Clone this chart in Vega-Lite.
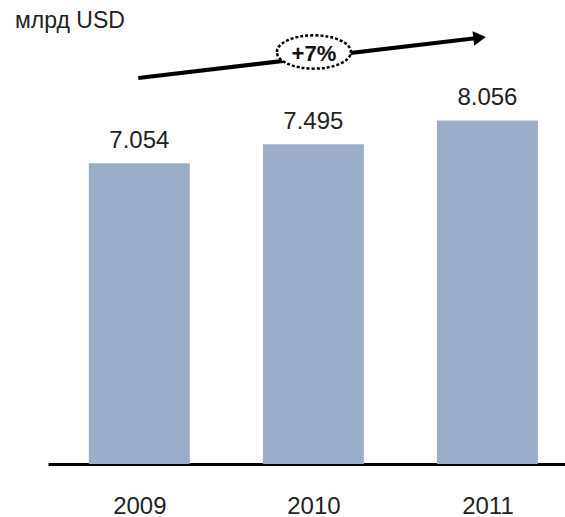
{
  "$schema": "https://vega.github.io/schema/vega-lite/v6.json",
  "width": 517,
  "height": 424,
  "autosize": {"type": "none"},
  "padding": {"left": 48, "top": 40, "right": 0, "bottom": 53},
  "background": "white",
  "config": {"view": {"stroke": null}, "font": "Liberation Sans"},
  "title": {"text": "млрд USD", "anchor": "start", "frame": "group", "dx": -33, "dy": 29, "offset": 8, "fontSize": 23, "fontWeight": "normal", "color": "#222222", "baseline": "alphabetic"},
  "datasets": {
    "bars": [
      {"year": 2009, "value": 7.054, "label": "7.054"},
      {"year": 2010, "value": 7.495, "label": "7.495"},
      {"year": 2011, "value": 8.056, "label": "8.056"}
    ],
    "arrow": [
      {"x": 2008.994, "y": 9.05},
      {"x": 2010.93, "y": 9.981}
    ],
    "head": [{"x": 2010.955, "y": 9.993}],
    "badge": [{"x": 2010.003, "y": 9.66, "text": "+7%"}]
  },
  "layer": [
    {
      "data": {"name": "bars"},
      "mark": {"type": "bar", "size": 101, "color": "#9cadc9"},
      "encoding": {
        "x": {"field": "year", "type": "quantitative", "scale": {"domain": [2008.504, 2011.417], "nice": false, "zero": false},
          "axis": {"values": [2009, 2010, 2011], "format": "d", "title": null, "grid": false, "ticks": false, "domainColor": "#000000", "domainWidth": 3, "labelFontSize": 24, "labelColor": "#222222", "labelPadding": 30, "labelFlush": false}},
        "y": {"field": "value", "type": "quantitative", "scale": {"domain": [0, 9.941], "nice": false}, "axis": null}
      }
    },
    {
      "data": {"name": "bars"},
      "mark": {"type": "text", "baseline": "bottom", "dy": -10, "fontSize": 24, "color": "#222222"},
      "encoding": {
        "x": {"field": "year", "type": "quantitative"},
        "y": {"field": "value", "type": "quantitative"},
        "text": {"field": "label"}
      }
    },
    {
      "data": {"name": "arrow"},
      "mark": {"type": "line", "color": "#000000", "strokeWidth": 4, "clip": false},
      "encoding": {
        "x": {"field": "x", "type": "quantitative"},
        "y": {"field": "y", "type": "quantitative"}
      }
    },
    {
      "data": {"name": "head"},
      "mark": {"type": "point", "shape": "triangle-right", "filled": true, "color": "#000000", "size": 210, "opacity": 1, "angle": -6.6, "clip": false},
      "encoding": {
        "x": {"field": "x", "type": "quantitative"},
        "y": {"field": "y", "type": "quantitative"}
      }
    },
    {
      "data": {"name": "badge"},
      "mark": {"type": "point", "shape": "M -1 0 A 1 0.45 0 1 1 1 0 A 1 0.45 0 1 1 -1 0 Z", "filled": true, "fill": "#ffffff", "stroke": "#000000", "strokeWidth": 2.5, "strokeDash": [3, 2], "size": 5476, "opacity": 1, "fillOpacity": 1, "clip": false},
      "encoding": {
        "x": {"field": "x", "type": "quantitative"},
        "y": {"field": "y", "type": "quantitative"}
      }
    },
    {
      "data": {"name": "badge"},
      "mark": {"type": "text", "fontSize": 22, "fontWeight": "bold", "color": "#111111", "dy": 2, "clip": false},
      "encoding": {
        "x": {"field": "x", "type": "quantitative"},
        "y": {"field": "y", "type": "quantitative"},
        "text": {"field": "text"}
      }
    }
  ]
}
